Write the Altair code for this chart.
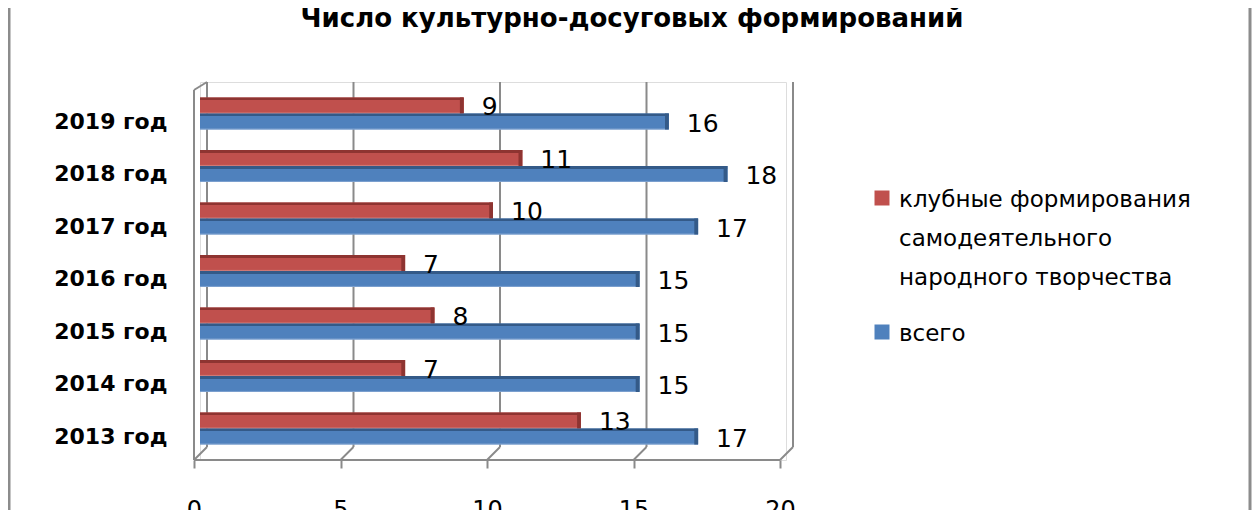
import altair as alt
import pandas as pd

# ---- data ----
years = ["2013 год", "2014 год", "2015 год", "2016 год", "2017 год", "2018 год", "2019 год"]
club = [13, 7, 8, 7, 10, 11, 9]
total = [17, 15, 15, 15, 17, 18, 16]
series = ["клубные формирования самодеятельного народного творчества", "всего"]
legend_lines = [["клубные формирования", "самодеятельного", "народного творчества"], ["всего"]]
ticks = [0, 5, 10, 15, 20]
chart_title = "Число культурно-досуговых формирований"

face = ["#C0504D", "#4F81BD"]
dark = ["#8E3431", "#345A88"]
light = ["#D58B89", "#8EADD6"]
grid_c = "#8A8A8A"

rows = []
for y, c, t in zip(years, club, total):
    rows.append({"year": y, "series": series[0], "v": c})
    rows.append({"year": y, "series": series[1], "v": t})
df = pd.DataFrame(rows)
df["v0"] = df["v"] - 0.13
tick_df = pd.DataFrame({"t": ticks})
one = pd.DataFrame({"k": [0]})

W, H = 586, 378
y_order = list(reversed(years))

x_scale = alt.Scale(domain=[0, 20], nice=False, zero=True)
x_axis = alt.Axis(values=ticks, tickOffset=-6, tickSize=8, tickColor=grid_c, tickWidth=2,
                  domain=False, grid=False, labelFont="DejaVu Sans", labelFontSize=24,
                  labelColor="black", labelPadding=30, title=None, labelFlush=False)
y_axis = alt.Axis(title=None, ticks=False, domain=False, grid=False, labelFont="DejaVu Sans",
                  labelFontSize=22, labelFontWeight="bold", labelColor="black",
                  labelPadding=33, labelOffset=8)
y_enc = alt.Y("year:N", scale=alt.Scale(domain=y_order, paddingInner=0, paddingOuter=0.1),
              axis=y_axis)
yo_enc = alt.YOffset("series:N", scale=alt.Scale(domain=series, paddingInner=0, paddingOuter=0.64))
x_enc = alt.X("v:Q", scale=x_scale, axis=x_axis)

base = alt.Chart(df).mark_bar().encode(
    x=x_enc, y=y_enc, yOffset=yo_enc,
    color=alt.Color("series:N", scale=alt.Scale(domain=series, range=face), legend=None),
)

layers = [base]


def grad(d, f, l):
    return alt.LinearGradient(gradient="linear", x1=0, y1=0, x2=0, y2=1, stops=[
        alt.GradientStop(offset=0, color=d), alt.GradientStop(offset=0.17, color=d),
        alt.GradientStop(offset=0.17, color=f), alt.GradientStop(offset=0.9, color=f),
        alt.GradientStop(offset=1, color=l)])


for i, s in enumerate(series):
    layers.append(alt.Chart(df).transform_filter(alt.datum.series == s).mark_bar(
        fill=grad(dark[i], face[i], light[i])).encode(x=x_enc, y=y_enc, yOffset=yo_enc))
    layers.append(alt.Chart(df).transform_filter(alt.datum.series == s).mark_bar(
        color=dark[i]).encode(x=alt.X("v0:Q", scale=x_scale, axis=x_axis), x2="v:Q",
                              y=y_enc, yOffset=yo_enc))

labels = alt.Chart(df).mark_text(align="left", baseline="middle", dx=18, dy=2,
                                 font="DejaVu Sans", fontSize=25, color="black").encode(
    x=x_enc, y=y_enc, yOffset=yo_enc, text="v:Q")

# manual legend (multi-line label with Office-like line spacing)
leg_sym_y = [116, 250]
leg_txt_y = [125, 259]
legend_layers = []
for i, s in enumerate(series):
    legend_layers.append(alt.Chart(one).mark_square(size=225, filled=True, color=face[i],
                                                    opacity=1).encode(
        x=alt.value(682), y=alt.value(leg_sym_y[i])))
    legend_layers.append(alt.Chart(one).mark_text(align="left", baseline="alphabetic",
                                                  lineHeight=39, font="DejaVu Sans",
                                                  fontSize=23, color="black").encode(
        x=alt.value(699), y=alt.value(leg_txt_y[i]), text=alt.value(legend_lines[i])))

title_mark = alt.Chart(one).mark_text(align="center", baseline="alphabetic",
                                      font="DejaVu Sans", fontSize=26, fontWeight="bold",
                                      color="black").encode(
    x=alt.value(432), y=alt.value(-55), text=alt.value(chart_title))

tx = alt.X("t:Q", scale=x_scale, axis=x_axis)
gridlines = alt.Chart(tick_df).mark_rule(xOffset=7, color=grid_c, strokeWidth=2).encode(
    x=tx, y=alt.value(0), y2=alt.value(365))
diags = alt.Chart(tick_df).mark_rule(xOffset=7, x2Offset=-6, color=grid_c, strokeWidth=2).encode(
    x=tx, x2="t:Q", y=alt.value(365), y2=alt.value(378))
floor = alt.Chart(one).mark_rule(color=grid_c, strokeWidth=2).encode(
    x=alt.value(-6), x2=alt.value(W - 6), y=alt.value(378))
wall = alt.Chart(one).mark_rule(color=grid_c, strokeWidth=2).encode(
    x=alt.value(-6), y=alt.value(8), y2=alt.value(378))
wall_top = alt.Chart(one).mark_rule(color=grid_c, strokeWidth=2).encode(
    x=alt.value(-6), x2=alt.value(7), y=alt.value(8), y2=alt.value(0))
border_l = alt.Chart(one).mark_rule(color="#8C8C8C", strokeWidth=3).encode(
    x=alt.value(-191), y=alt.value(-74), y2=alt.value(428))
border_r = alt.Chart(one).mark_rule(color="#8C8C8C", strokeWidth=3).encode(
    x=alt.value(1050), y=alt.value(-74), y2=alt.value(428))

chart = alt.layer(border_l, border_r, gridlines, diags, floor, wall, wall_top,
                  *layers, labels, *legend_layers, title_mark).properties(
    width=W, height=H,
    padding={"left": 192, "top": 74, "right": 466, "bottom": 50},
    autosize=alt.AutoSizeParams(type="none"),
).configure_view(stroke=None).configure(background="white")

chart.save("out.html", embed_options={"renderer": "svg", "actions": False})
